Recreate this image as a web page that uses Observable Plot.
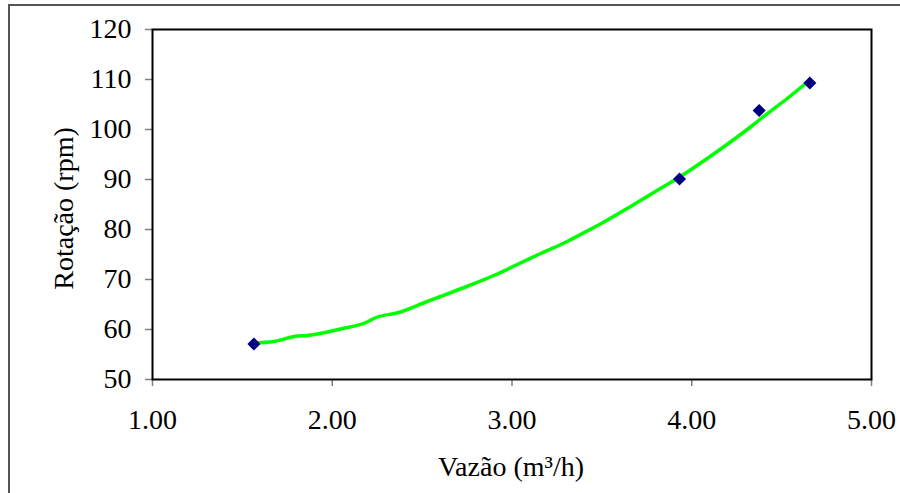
<!DOCTYPE html>
<html>
<head>
<meta charset="utf-8">
<script src="https://cdn.jsdelivr.net/npm/d3@7"></script>
<script src="https://cdn.jsdelivr.net/npm/@observablehq/plot@0.6"></script>
<style>
  html, body { margin: 0; padding: 0; background: #fff; overflow: hidden; }
  #wrap { position: relative; width: 900px; height: 493px; overflow: hidden; }
  #border { position: absolute; left: 8px; top: 4px; width: 1000px; height: 1000px;
            border-top: 2px solid #555; border-left: 2px solid #555; pointer-events: none; }
  #chart { position: absolute; left: 0; top: 0; }
  #chart svg, #chart svg text { font-family: "Liberation Serif", "Times New Roman", serif !important; font-size: 28px !important; }
</style>
</head>
<body>
<div id="wrap"><div id="chart"></div><div id="border"></div></div>
<script>
// Measured points
const vazao = [1.564, 3.932, 4.375, 4.657];
const rotacao = [57.1, 90.1, 103.8, 109.3];

// Trend line
const trendX = [1.564, 1.675, 1.805, 1.861, 2.046, 2.194, 2.231, 2.380, 2.528, 2.602, 2.769, 2.899, 3.029, 3.159, 3.307, 3.381, 3.492, 3.678, 3.845, 3.937, 4.086, 4.234, 4.327, 4.382, 4.531, 4.651];
const trendY = [57.3, 57.6, 58.7, 58.8, 60.1, 61.5, 62.2, 63.5, 65.6, 66.6, 68.9, 70.8, 73.0, 75.2, 77.6, 79.0, 81.1, 85.0, 88.6, 90.6, 94.2, 98.0, 100.5, 102.1, 106.2, 109.7];

const xTicks = [1, 2, 3, 4, 5];
const yTicks = [50, 60, 70, 80, 90, 100, 110, 120];

const xLabel = "Vazão (m³/h)";
const yLabel = "Rotação (rpm)";

const points = vazao.map((v, i) => ({x: v, y: rotacao[i]}));
const trend = trendX.map((v, i) => ({x: v, y: trendY[i]}));

const squareDiamond = {
  draw(context, size) {
    const h = Math.sqrt(size / 2);
    context.moveTo(0, -h);
    context.lineTo(h, 0);
    context.lineTo(0, h);
    context.lineTo(-h, 0);
    context.closePath();
  }
};

const font = "Liberation Serif, Times New Roman, serif";

const chart = Plot.plot({
  width: 900,
  height: 493,
  marginLeft: 152,
  marginRight: 29,
  marginTop: 29,
  marginBottom: 114,
  style: {fontFamily: font, fontSize: "28px", color: "#000", background: "#fff"},
  x: {domain: [1, 5]},
  y: {domain: [50, 120]},
  marks: [
    Plot.axisX({ticks: xTicks, tickFormat: d3.format(".2f"), tickSize: 7, tickPadding: 23,
      stroke: "#808080", strokeWidth: 1.5, fill: "#000", label: null}),
    Plot.axisY({ticks: yTicks, tickSize: 7, tickPadding: 14,
      stroke: "#808080", strokeWidth: 1.5, fill: "#000", label: null}),
    Plot.text([xLabel], {text: d => d, frameAnchor: "bottom", textAnchor: "middle", lineAnchor: "bottom",
      dy: 96, dx: -1, fill: "#000"}),
    Plot.text([yLabel], {text: d => d, frameAnchor: "left", textAnchor: "middle", lineAnchor: "bottom",
      rotate: -90, dx: -80, dy: 4, fill: "#000"}),
    Plot.line(trend, {x: "x", y: "y", stroke: "#00ff00", strokeWidth: 3.5, curve: "monotone-x"}),
    Plot.dot(points, {x: "x", y: "y", symbol: squareDiamond, r: 5.2, fill: "#000080", stroke: "none"}),
    Plot.frame({stroke: "#000", strokeWidth: 2})
  ]
});
document.getElementById("chart").appendChild(chart);
</script>
</body>
</html>
